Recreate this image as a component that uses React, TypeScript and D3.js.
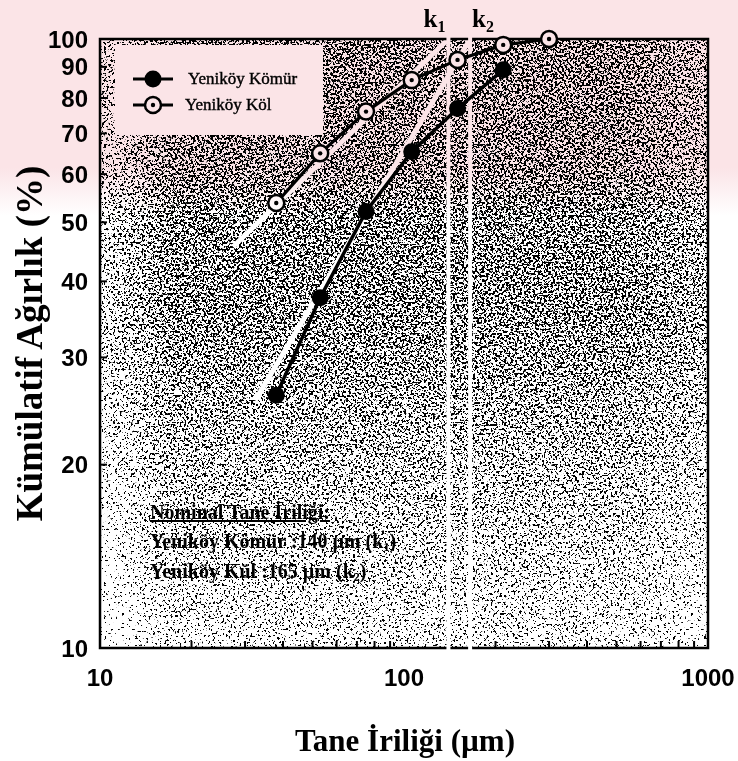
import React from "react";
import * as d3 from "d3";

// Sieve sizes (µm) and cumulative weight (%) for each sample
const komurSize = [38, 53, 75, 106, 150, 212];
const komurPct = [26.0, 37.6, 52.1, 65.3, 76.9, 89.0];
const kulSize = [38, 53, 75, 106, 150, 212, 300];
const kulPct = [53.8, 64.9, 76.0, 85.6, 92.4, 97.8, 100];

// Nominal particle sizes k1, k2 (µm)
const nominalSize = [140, 165];
const nominalIndex = ["1", "2"];

// Straight-line fits extended up to 100 %
const kulFitSize = [27.4, 140];
const kulFitPct = [45.6, 100];
const komurFitSize = [32.4, 165];
const komurFitPct = [25.5, 100];

const xTickLabels = [10, 100, 1000];
const yTickLabels = [10, 20, 30, 40, 50, 60, 70, 80, 90, 100];
const xMinor = [20, 30, 40, 50, 60, 70, 80, 90, 200, 300, 400, 500, 600, 700, 800, 900];
const yMinor = [20, 30, 40, 50, 60, 70, 80, 90];

const W = 738;
const H = 761;
const L = 100, R = 708, T = 39, B = 648;

const serif = "'Liberation Serif', 'Times New Roman', serif";
const sans = "'Liberation Sans', Arial, sans-serif";

export default function App() {
  const x = d3.scaleLog().domain([10, 1000]).range([L, R]);
  const y = d3.scaleLog().domain([10, 100]).range([B, T]);
  const line = d3
    .line<[number, number]>()
    .x((d) => x(d[0]))
    .y((d) => y(d[1]));

  const komur = komurSize.map((s, i) => [s, komurPct[i]] as [number, number]);
  const kul = kulSize.map((s, i) => [s, kulPct[i]] as [number, number]);
  const komurFit = komurFitSize.map((s, i) => [s, komurFitPct[i]] as [number, number]);
  const kulFit = kulFitSize.map((s, i) => [s, kulFitPct[i]] as [number, number]);

  return (
    <svg
      width={W}
      height={H}
      viewBox={`0 0 ${W} ${H}`}
      style={{ position: "absolute", left: 0, top: 0, background: "#fff" }}
    >
      <defs>
        {/* stipple density: heavier in the upper half, lighter toward the bottom */}
        <linearGradient id="densityV" gradientUnits="userSpaceOnUse" x1={0} y1={T} x2={0} y2={B}>
          <stop offset="0" stopColor="rgb(130,130,130)" />
          <stop offset="0.45" stopColor="rgb(127,127,127)" />
          <stop offset="0.7" stopColor="rgb(113,113,113)" />
          <stop offset="1" stopColor="rgb(98,98,98)" />
        </linearGradient>
        <linearGradient id="densityH" gradientUnits="userSpaceOnUse" x1={L} y1={0} x2={R} y2={0}>
          <stop offset="0" stopColor="#000" stopOpacity={0.18} />
          <stop offset="0.12" stopColor="#000" stopOpacity={0} />
          <stop offset="0.85" stopColor="#000" stopOpacity={0} />
          <stop offset="1" stopColor="#000" stopOpacity={0.08} />
        </linearGradient>
        <filter
          id="speckle"
          filterUnits="userSpaceOnUse"
          x={L}
          y={T}
          width={R - L}
          height={B - T}
          colorInterpolationFilters="sRGB"
        >
          <feTurbulence type="fractalNoise" baseFrequency="0.45" numOctaves={2} seed={7} result="n" />
          <feColorMatrix
            in="n"
            type="matrix"
            values="1 0 0 0 0  1 0 0 0 0  1 0 0 0 0  0 0 0 0 1"
            result="nr"
          />
          <feComposite
            in="nr"
            in2="SourceGraphic"
            operator="arithmetic"
            k1={0}
            k2={1}
            k3={1}
            k4={-0.5}
            result="sum"
          />
          <feColorMatrix
            in="sum"
            type="matrix"
            values="0 0 0 0 0  0 0 0 0 0  0 0 0 0 0  30 0 0 0 -15"
          />
        </filter>
        <linearGradient id="tint" gradientUnits="userSpaceOnUse" x1={0} y1={0} x2={0} y2={240}>
          <stop offset="0" stopColor="#fbe4e7" />
          <stop offset="0.7" stopColor="#fbe4e7" />
          <stop offset="0.9" stopColor="#fff" />
          <stop offset="1" stopColor="#fff" />
        </linearGradient>
      </defs>

      {/* stippled plot background */}
      <g filter="url(#speckle)">
        <rect x={L} y={T} width={R - L} height={B - T} fill="url(#densityV)" />
        <rect x={L} y={T} width={R - L} height={B - T} fill="url(#densityH)" />
      </g>

      {/* legend box */}
      <rect x={115} y={45} width={208} height={90} fill="#fff" />

      {/* fitted lines */}
      <path d={line(kulFit) ?? ""} stroke="#fff" strokeWidth={5} fill="none" />
      <path d={line(komurFit) ?? ""} stroke="#fff" strokeWidth={5} fill="none" />

      {/* frame and ticks */}
      <rect x={L} y={T} width={R - L} height={B - T} fill="none" stroke="#000" strokeWidth={2.5} />
      {xMinor.map((v) => (
        <line key={`xm${v}`} x1={x(v)} x2={x(v)} y1={B} y2={B - 7} stroke="#000" strokeWidth={2} />
      ))}
      {yMinor.map((v) => (
        <line key={`ym${v}`} x1={L} x2={L + 7} y1={y(v)} y2={y(v)} stroke="#000" strokeWidth={2} />
      ))}

      {/* nominal size markers */}
      {nominalSize.map((v, i) => (
        <g key={`k${i}`}>
          <line x1={x(v)} x2={x(v)} y1={T - 4} y2={B + 4} stroke="#fff" strokeWidth={4} />
          <text
            x={i === 0 ? x(v) - 3 : x(v) + 2}
            y={27}
            textAnchor={i === 0 ? "end" : "start"}
            fontFamily={serif}
            fontWeight="bold"
            fontSize={25}
          >
            k
            <tspan fontSize={16} dy={5}>
              {nominalIndex[i]}
            </tspan>
          </text>
        </g>
      ))}

      {/* data series */}
      <path d={line(kul) ?? ""} stroke="#000" strokeWidth={3.2} fill="none" />
      <path d={line(komur) ?? ""} stroke="#000" strokeWidth={3.5} fill="none" />
      {komur.map((d, i) => (
        <circle key={`c${i}`} cx={x(d[0])} cy={y(d[1])} r={8.5} fill="#000" />
      ))}
      {kul.map((d, i) => (
        <g key={`u${i}`}>
          <circle cx={x(d[0])} cy={y(d[1])} r={8} fill="#fff" stroke="#000" strokeWidth={2.5} />
          <circle cx={x(d[0])} cy={y(d[1])} r={2.2} fill="#000" />
        </g>
      ))}

      {/* legend */}
      <g fontFamily={serif} fontSize={17} stroke="#000" strokeWidth={0.4}>
        <text x={188} y={84}>
          Yeniköy Kömür
        </text>
        <text x={185} y={110}>
          Yeniköy Köl
        </text>
      </g>
      <line x1={133} x2={173} y1={79} y2={79} stroke="#000" strokeWidth={3} />
      <circle cx={153} cy={79} r={8.5} fill="#000" />
      <line x1={133} x2={173} y1={105} y2={105} stroke="#000" strokeWidth={3} />
      <circle cx={153} cy={105} r={8} fill="#fff" stroke="#000" strokeWidth={2.5} />
      <circle cx={153} cy={105} r={2.2} fill="#000" />

      {/* annotation */}
      <g fontFamily={serif} fontWeight="bold" fontSize={20}>
        <text x={150} y={519} textDecoration="underline">
          Nominal Tane İriliği:
        </text>
        <text x={150} y={548}>
          Yeniköy Kömür :{nominalSize[0]} µm (k
          <tspan fontSize={12} dy={3}>
            1
          </tspan>
          <tspan dy={-3}>)</tspan>
        </text>
        <text x={150} y={578}>
          Yeniköy Kül :{nominalSize[1]} µm (k
          <tspan fontSize={12} dy={3}>
            2
          </tspan>
          <tspan dy={-3}>)</tspan>
        </text>
      </g>

      {/* tick labels */}
      {yTickLabels.map((v) => (
        <text
          key={`yl${v}`}
          x={88}
          y={y(v) + 8.5}
          textAnchor="end"
          fontFamily={sans}
          fontWeight="bold"
          fontSize={24}
        >
          {v}
        </text>
      ))}
      {xTickLabels.map((v) => (
        <text
          key={`xl${v}`}
          x={x(v)}
          y={686}
          textAnchor="middle"
          fontFamily={sans}
          fontWeight="bold"
          fontSize={24}
        >
          {v}
        </text>
      ))}

      {/* axis titles */}
      <text
        x={405}
        y={751}
        textAnchor="middle"
        fontFamily={serif}
        fontWeight="bold"
        fontSize={31}
      >
        Tane İriliği (µm)
      </text>
      <text
        transform={`translate(42, ${(T + B) / 2}) rotate(-90)`}
        textAnchor="middle"
        fontFamily={serif}
        fontWeight="bold"
        fontSize={37}
      >
        Kümülatif Ağırlık (%)
      </text>

      {/* faint tint across the upper band */}
      <rect
        x={0}
        y={0}
        width={W}
        height={240}
        fill="url(#tint)"
        style={{ mixBlendMode: "multiply" }}
      />
    </svg>
  );
}
